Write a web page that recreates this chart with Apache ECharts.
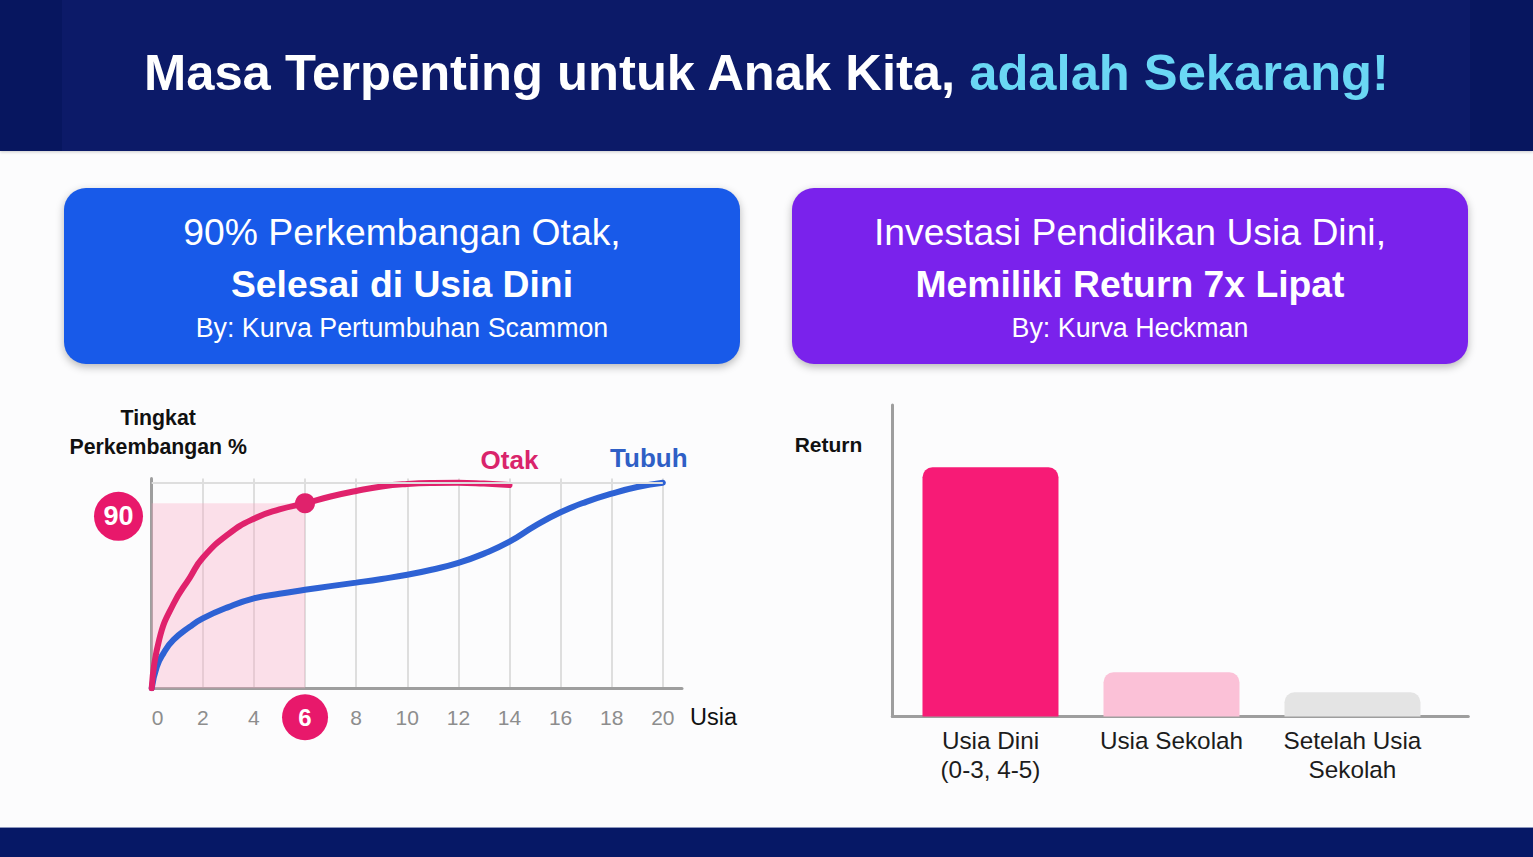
<!DOCTYPE html>
<html>
<head>
<meta charset="utf-8">
<title>Masa Terpenting untuk Anak Kita</title>
<script src="https://cdn.jsdelivr.net/npm/echarts@6/dist/echarts.min.js"></script>
<style>
  html, body { margin: 0; padding: 0; width: 1533px; height: 857px; overflow: hidden; background: #fcfcfd; font-family: "Liberation Sans", Arial, sans-serif; }
  .header { position: absolute; left: 0; top: 0; width: 1533px; height: 151px; background: #07165f; box-shadow: 0 1px 3px rgba(0,0,0,0.2); }
  .header .inner { position: absolute; left: 62px; right: 63px; top: 0; bottom: 0; background: #0c1a68; }
  .header h1 { position: absolute; left: 0; right: 0; top: 48px; margin: 0; height: 50px; line-height: 50px; text-align: center; font-size: 50.7px; font-weight: bold; color: #fff; white-space: nowrap; }
  .header h1 span { color: #6ad7f4; }
  .card { position: absolute; top: 188px; width: 676px; height: 176px; border-radius: 22px; color: #fff; text-align: center; box-shadow: 0 3px 8px rgba(0,0,0,0.28); }
  .card div { position: absolute; left: 0; right: 0; height: 50px; line-height: 50px; white-space: nowrap; }
  .card .l1 { top: 19px; font-size: 37.3px; }
  .card .l2 { top: 71px; font-size: 37.3px; font-weight: bold; }
  .card .l3 { top: 115px; font-size: 26.8px; }
  #cardA { left: 64px; background: #185ae9; }
  #cardB { left: 792px; background: #7a22ec; }
  .footer { position: absolute; left: 0; top: 827px; width: 1533px; height: 30px; background: #061866; border-top: 1px solid #8d97bd; }
  #chart { position: absolute; left: 0; top: 0; width: 1533px; height: 857px; }
</style>
</head>
<body>
<div class="header"><div class="inner"></div>
  <h1>Masa Terpenting untuk Anak Kita, <span>adalah Sekarang!</span></h1>
</div>
<div class="card" id="cardA">
  <div class="l1">90% Perkembangan Otak,</div>
  <div class="l2">Selesai di Usia Dini</div>
  <div class="l3">By: Kurva Pertumbuhan Scammon</div>
</div>
<div class="card" id="cardB">
  <div class="l1">Investasi Pendidikan Usia Dini,</div>
  <div class="l2">Memiliki Return 7x Lipat</div>
  <div class="l3">By: Kurva Heckman</div>
</div>
<div class="footer"></div>
<div id="chart"></div>
<script>
// Scammon curve (age in years, development %)
const otakAge = [0, 0.3, 0.85, 1.5, 2, 3, 4, 5, 6, 7, 8, 9, 10, 11, 12, 13, 14];
const otakValue = [0, 24, 41, 54, 63.5, 75, 82.5, 87, 90, 93.3, 96, 98.2, 99.4, 99.9, 100, 99.6, 98.9];
const tubuhAge = [0, 0.2, 0.46, 0.85, 1.5, 2, 3, 4, 5, 6, 7, 8, 9, 10, 11, 12, 13, 14, 15, 16, 17, 18, 19, 20];
const tubuhValue = [0, 10.5, 17, 23.5, 30, 34, 39.5, 43.7, 46, 47.9, 49.7, 51.4, 53.2, 55.2, 57.8, 61, 65.5, 71.3, 79, 85.6, 90.7, 94.7, 97.9, 100];
const ageTicks = [0, 2, 4, 6, 8, 10, 12, 14, 16, 18, 20];
const highlightAge = 6;
const highlightLevel = 90;

// Heckman curve
const returnCategories = ['Usia Dini\n(0-3, 4-5)', 'Usia Sekolah', 'Setelah Usia\nSekolah'];
const returnValues = [80, 14.2, 7.8];
const barColors = ['#f71b76', '#fbc1d7', '#e4e4e4'];

const FONT = 'Liberation Sans';
const AXIS_GRAY = '#9e9e9e';
const PINK = '#e0226c';
const BLUE = '#2e62d4';

const chart = echarts.init(document.getElementById('chart'), null, { renderer: 'svg' });

const option = {
  animation: false,
  textStyle: { fontFamily: FONT },
  grid: [
    { left: 151.7, top: 478.6, width: 530.3, height: 209.7, outerBoundsMode: 'none' },
    { left: 892.3, top: 405, width: 576, height: 311.5, outerBoundsMode: 'none' }
  ],
  xAxis: [
    {
      type: 'value', gridIndex: 0, min: 0, max: 20.75, interval: 2,
      axisLine: { lineStyle: { color: AXIS_GRAY, width: 3 } },
      axisTick: { show: false },
      splitLine: { show: true, showMinLine: false, showMaxLine: false, lineStyle: { color: '#dedede', width: 2 } },
      axisLabel: {
        customValues: ageTicks,
        margin: 6,
        formatter: v => v === highlightAge ? '{hl|' + v + '}' : (v === 0 ? '{z|0}' : '{n|' + v + '}'),
        rich: {
          n: { fontSize: 21, color: '#8d8d8d', height: 46, lineHeight: 46, fontFamily: FONT },
          z: { fontSize: 21, color: '#8d8d8d', height: 46, lineHeight: 46, fontFamily: FONT, padding: [0, 0, 0, 12] },
          hl: { width: 46, height: 46, lineHeight: 46, borderRadius: 23, backgroundColor: '#e8186b', color: '#fff', fontSize: 24, fontWeight: 'bold', align: 'center', fontFamily: FONT }
        }
      },
      name: 'Usia', nameLocation: 'end', nameGap: 8,
      nameTextStyle: { fontSize: 23.5, color: '#111', verticalAlign: 'top', padding: [17, 0, 0, 0] }
    },
    {
      type: 'value', gridIndex: 1, min: 0.4575, max: 3.64,
      axisLine: { lineStyle: { color: AXIS_GRAY, width: 3 } },
      axisTick: { show: false },
      splitLine: { show: false },
      axisLabel: {
        customValues: [1, 2, 3],
        formatter: v => returnCategories[Math.round(v) - 1],
        fontSize: 24.3, color: '#1c1c1c', lineHeight: 29, margin: 9
      }
    }
  ],
  yAxis: [
    {
      type: 'value', gridIndex: 0, min: 0, max: 102,
      axisLine: { show: true, lineStyle: { color: AXIS_GRAY, width: 3 } },
      axisTick: { show: false },
      splitLine: { show: false },
      axisLabel: {
        customValues: [highlightLevel],
        margin: 8.7,
        padding: [26, 0, 0, 0],
        formatter: v => '{b|' + v + '}',
        rich: {
          b: { width: 49, height: 49, lineHeight: 49, borderRadius: 25, backgroundColor: '#e8186b', color: '#fff', fontSize: 27, fontWeight: 'bold', align: 'center', fontFamily: FONT }
        }
      },
      name: 'Tingkat\nPerkembangan %', nameLocation: 'end', nameGap: 17,
      nameTextStyle: { fontSize: 21.3, fontWeight: 'bold', color: '#111', lineHeight: 29, align: 'center', padding: [0, 0, 0, 13] }
    },
    {
      type: 'value', gridIndex: 1, min: 0, max: 100,
      axisLine: { show: true, lineStyle: { color: AXIS_GRAY, width: 3 } },
      axisTick: { show: false },
      axisLabel: { show: false },
      splitLine: { show: false },
      name: 'Return', nameLocation: 'end', nameGap: -50,
      nameTextStyle: { fontSize: 21, fontWeight: 'bold', color: '#111', align: 'right', padding: [0, 30, 0, 0] }
    }
  ],
  series: [
    {
      name: 'Otak', type: 'line', xAxisIndex: 0, yAxisIndex: 0, z: 4,
      data: otakAge.map((a, i) => a === highlightAge
        ? { value: [a, otakValue[i]], symbol: 'circle', symbolSize: 20 }
        : [a, otakValue[i]]),
      symbol: 'none', showSymbol: true,
      smooth: 0.5,
      lineStyle: { color: PINK, width: 6, cap: 'round' },
      itemStyle: { color: PINK },
      endLabel: { show: true, formatter: 'Otak', color: '#d9246b', fontSize: 26, fontWeight: 'bold', align: 'center', verticalAlign: 'bottom', offset: [-8, -12] },
      markArea: {
        silent: true,
        itemStyle: { color: 'rgba(248,170,195,0.35)' },
        data: [[{ coord: [0, 0] }, { coord: [highlightAge, highlightLevel] }]]
      },
      markLine: {
        silent: true, symbol: 'none', label: { show: false },
        lineStyle: { color: '#dedede', width: 2, type: 'solid' },
        data: [[{ coord: [0, 100] }, { coord: [20, 100] }]]
      }
    },
    {
      name: 'Tubuh', type: 'line', xAxisIndex: 0, yAxisIndex: 0, z: 3,
      data: tubuhAge.map((a, i) => [a, tubuhValue[i]]),
      showSymbol: false,
      smooth: 0.5,
      lineStyle: { color: BLUE, width: 6, cap: 'round' },
      itemStyle: { color: BLUE },
      endLabel: { show: true, formatter: 'Tubuh', color: '#2f5fc6', fontSize: 26, fontWeight: 'bold', align: 'center', verticalAlign: 'bottom', offset: [-22, -12] }
    },
    {
      name: 'Return', type: 'bar', xAxisIndex: 1, yAxisIndex: 1,
      data: returnValues.map((v, i) => [i + 1, v]),
      barWidth: 136,
      itemStyle: { borderRadius: [10, 10, 0, 0], color: p => barColors[p.dataIndex] }
    }
  ]
};

chart.setOption(option);
</script>
</body>
</html>
